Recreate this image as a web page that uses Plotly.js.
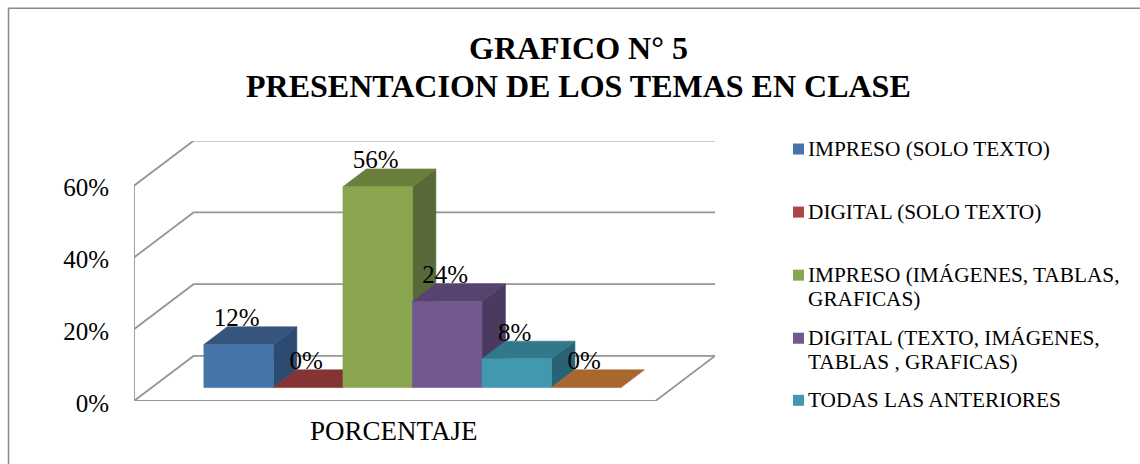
<!DOCTYPE html>
<html>
<head>
<meta charset="utf-8">
<script src="https://cdn.plot.ly/plotly-3.0.1.min.js"></script>
<style>html,body{margin:0;padding:0;background:#fff}#c{width:1140px;height:464px}</style>
</head>
<body>
<div id="c"></div>
<script>
// ---- data ----
const seriesNames = ["IMPRESO (SOLO TEXTO)","DIGITAL (SOLO TEXTO)","IMPRESO (IMÁGENES, TABLAS,<br>GRAFICAS)","DIGITAL (TEXTO, IMÁGENES,<br>TABLAS , GRAFICAS)","TODAS LAS ANTERIORES","OTROS"];
const seriesValues = [12,0,56,24,8,0];
const category = "PORCENTAJE";
const yTicks = [0,20,40,60];
const yTickLabels = ["0%","20%","40%","60%"];
const titleLines = ["GRAFICO N° 5","PRESENTACION DE LOS TEMAS EN CLASE"];

// ---- styles ----
const frontColors = ["#4673A8","#AA4643","#89A54E","#71588F","#4198AF","#DB843D"];
const topColors   = ["#35557D","#843432","#6A7F3C","#574370","#31788A","#A96730"];
const sideColors  = ["#2D4A70","#722D2B","#58693A","#4A3A60","#296373","#8F5729"];
const legendCenters = [149,212,286.5,349.5,400];
const titleCenters = [48,86];
const gridColor = "#969696";
const W = 1140, H = 464;
const L = 134, R = 715, B = 400.7, T = 141;          // plot box in page pixels
const pxPerX = 69.47, pxPerY = 71.67/20;
const wallDx = 59.5/pxPerX, wallDy = 45/pxPerY;       // oblique offset of full floor depth
const barStart = 0.298, barDepth = 0.393;             // bar placement along the depth
const gap = 0.75, floorW = seriesValues.length + 2*gap;

// oblique projection: x in bar units, d = depth 0..1, v = value in %
const proj = (x,d,v) => [x + d*wallDx, v + d*wallDy];
function poly(pts,color,name){
  const p = pts.map(a=>proj(a[0],a[1],a[2]));
  p.push(p[0]);
  return {type:'scatter',mode:'lines',x:p.map(a=>a[0]),y:p.map(a=>a[1]),fill:'toself',fillcolor:color,
    line:{color:color,width:0.6},hoverinfo:'name',name:name,showlegend:false};
}
function seg(pts){
  const p = pts.map(a=>proj(a[0],a[1],a[2]));
  return {type:'scatter',mode:'lines',x:p.map(a=>a[0]),y:p.map(a=>a[1]),
    line:{color:gridColor,width:1.8},hoverinfo:'skip',showlegend:false,cliponaxis:false};
}
const traces = [];
// wall gridlines and floor
yTicks.forEach(v=>{ traces.push(seg([[0,0,v],[0,1,v],[floorW,1,v]])); });
traces.push(seg([[0,0,0],[0,0,60]]));
traces.push(seg([[0,0,0],[floorW,0,0],[floorW,1,0]]));
// bars, back to front order left to right
seriesValues.forEach((v,i)=>{
  const a = gap+i, b = a+1, d0 = barStart, d1 = barStart+barDepth, nm = seriesNames[i].replace('<br>',' ');
  if(v>0) traces.push(poly([[b,d0,0],[b,d1,0],[b,d1,v],[b,d0,v]],sideColors[i],nm));
  traces.push(poly([[a,d0,v],[b,d0,v],[b,d1,v],[a,d1,v]],topColors[i],nm));
  if(v>0) traces.push(poly([[a,d0,0],[b,d0,0],[b,d0,v],[a,d0,v]],frontColors[i],nm));
});
// data labels: centred over the front face, just above the back edge of the top
const labelX = seriesValues.map((v,i)=>proj(gap+i+0.47, barStart, v)[0]);
const labelY = seriesValues.map(v=>proj(0, barStart+barDepth, v)[1]+1.9);
traces.push({type:'scatter',mode:'text',x:labelX,y:labelY,
  text:seriesValues.map(v=>v+'%'),textposition:'middle center',
  textfont:{family:'"Liberation Serif"',size:25,color:'#000'},hoverinfo:'skip',showlegend:false,cliponaxis:false});

const font = '"Liberation Serif"';
const shapes = [{type:'path',xref:'paper',yref:'paper',
  path:`M ${(8.5-L)/(R-L)} ${(B-H)/(B-T)} L ${(8.5-L)/(R-L)} ${(B-8.5)/(B-T)} L ${(W+2-L)/(R-L)} ${(B-8.5)/(B-T)}`,
  line:{color:'#8A8A8A',width:1.5}}];
const annotations = titleLines.map((t,i)=>({xref:'paper',yref:'paper',x:(578-L)/(R-L),y:(B-titleCenters[i])/(B-T),
  xanchor:'center',yanchor:'middle',showarrow:false,align:'center',text:'<b>'+t+'</b>',
  font:{family:font,size:32,color:'#000'}}));
legendCenters.forEach((c,i)=>{
  const lines = seriesNames[i].split('<br>');
  const first = lines.length>1 ? c-11.5 : c;
  lines.forEach((ln,j)=>{
    annotations.push({xref:'paper',yref:'paper',x:(807-L)/(R-L),y:(B-(first+23.5*j))/(B-T),xanchor:'left',yanchor:'middle',
      showarrow:false,align:'left',text:ln,font:{family:font,size:21.3,color:'#000'},borderpad:0});
  });
  shapes.push({type:'rect',xref:'paper',yref:'paper',x0:(793-L)/(R-L),x1:(804-L)/(R-L),
    y0:(B-first+5.5)/(B-T)-11/(B-T),y1:(B-first+5.5)/(B-T),fillcolor:frontColors[i],line:{width:0}});
});

const layout = {
  width:W,height:H,paper_bgcolor:'#fff',plot_bgcolor:'#fff',showlegend:false,
  margin:{l:L,r:W-R,t:T,b:H-B,pad:0},
  xaxis:{range:[0,floorW+wallDx],tickmode:'array',tickvals:[floorW/2],ticktext:[category],
    showgrid:false,zeroline:false,showline:false,ticks:'outside',ticklen:6,tickcolor:'rgba(0,0,0,0)',
    ticklabelshift:-1,tickfont:{family:font,size:27,color:'#000'},fixedrange:true},
  yaxis:{range:[0,(B-T)/pxPerY],tickmode:'array',tickvals:yTicks,ticktext:yTickLabels,
    showgrid:false,zeroline:false,showline:false,ticks:'outside',ticklen:19,tickcolor:'rgba(0,0,0,0)',
    ticklabelshift:2,tickfont:{family:font,size:25,color:'#000'},fixedrange:true},
  shapes:shapes,annotations:annotations
};
Plotly.newPlot('c',traces,layout,{displayModeBar:false,responsive:false});
</script>
</body>
</html>
